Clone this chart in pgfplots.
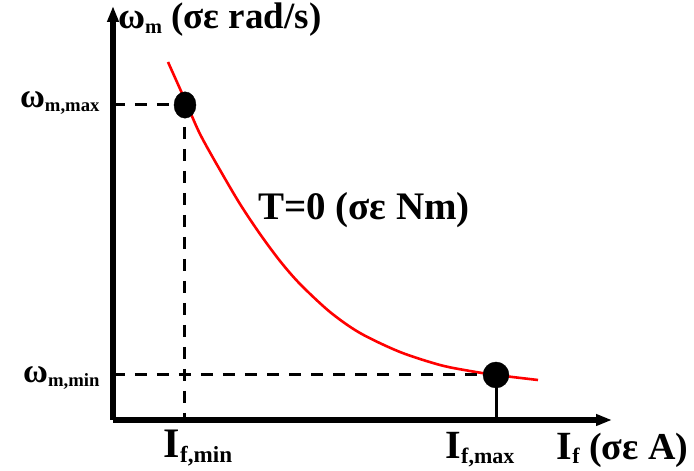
\documentclass[border=0pt]{standalone}
\usepackage{pgfplots}
\pgfplotsset{compat=1.18}
\usepackage{fontspec}
\setmainfont{Liberation Serif}
\usetikzlibrary{arrows.meta}
\newcommand{\lab}[3]{{\fontsize{#1}{#1}\selectfont #2\raisebox{-0.12em}{\fontsize{\fpeval{0.55*#1}}{10}\selectfont #3}}}
\begin{document}
\begin{tikzpicture}
\begin{axis}[
  x=1pt, y=1pt,
  xmin=113, xmax=612, ymin=50, ymax=464,
  axis lines=left,
  axis line style={line width=6pt, black, -{Triangle[length=16pt,width=11pt]}},
  xtick=\empty, ytick=\empty,
  clip=false,
  font=\bfseries,
]
\path (axis cs:0,0) rectangle (axis cs:694,470);
% red curve
\addplot[red, line width=2.6pt, smooth] coordinates {
(168,408) (185,370) (200,336) (220,300) (240,266) (260,236) (280,209) (300,186)
(330,158) (360,137) (400,118) (440,105) (470,99) (496,95) (538,90)};
% dashed guides
\addplot[black, line width=3pt, dash pattern=on 12pt off 10pt] coordinates {(113,365) (185,365)};
\addplot[black, line width=3pt, dash pattern=on 12pt off 10pt] coordinates {(185,365) (185,50)};
\addplot[black, line width=3pt, dash pattern=on 12pt off 10pt] coordinates {(113,95) (496,95)};
\addplot[black, line width=3pt] coordinates {(496,95) (496,50)};
% dots
\addplot[only marks, mark=*, mark size=11pt, mark options={fill=black, yscale=1.2}] coordinates {(185,365)};
\addplot[only marks, mark=*, mark size=13pt, mark options={fill=black}] coordinates {(496,95)};
% labels
\node[anchor=west, inner sep=0pt, font=\bfseries] at (axis cs:118,450) {\lab{37}{ω}{m}\fontsize{37}{37}\selectfont{} (σε rad/s)};
\node[font=\fontsize{39}{40}\selectfont\bfseries] at (axis cs:364,260) {T=0 (σε Nm)};
\node[anchor=east, font=\bfseries] at (axis cs:103,367) {\lab{34}{ω}{m,max}};
\node[anchor=east, font=\bfseries] at (axis cs:103,92) {\lab{34}{ω}{m,min}};
\node[font=\bfseries] at (axis cs:198,22) {\lab{42}{I}{f,min}};
\node[font=\bfseries] at (axis cs:480,20) {\lab{40}{I}{f,max}};
\node[anchor=east, font=\bfseries] at (axis cs:692,20) {\lab{40}{I}{f}\fontsize{38}{38}\selectfont{} (σε A)};
\end{axis}
\end{tikzpicture}
\end{document}
